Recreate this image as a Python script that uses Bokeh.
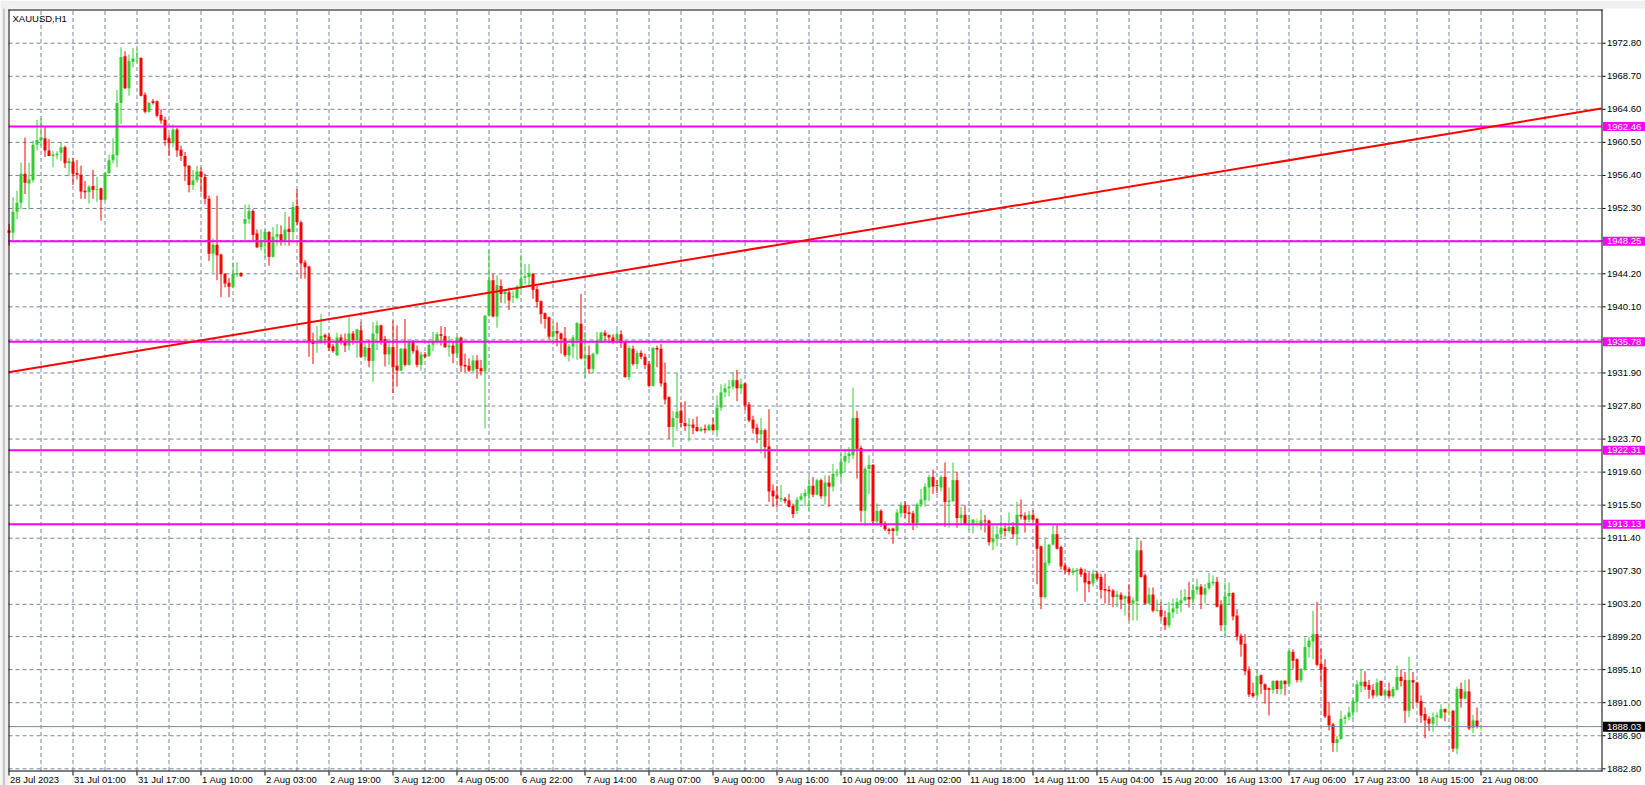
from bokeh.plotting import figure
from bokeh.models import ColumnDataSource, Range1d
from bokeh.core.properties import value
from bokeh.embed import file_html
from bokeh.resources import INLINE

# ---------------- data (XAUUSD H1) ----------------
SYMBOL = "XAUUSD,H1"

OPEN = [
    1949.6, 1949.3, 1951.9, 1953.0, 1956.6, 1955.4, 1955.8, 1960.2, 1960.8, 1961.0,
    1959.5, 1958.8, 1958.9, 1959.2, 1959.9, 1957.9, 1958.1, 1956.7, 1956.5, 1954.5,
    1954.3, 1955.1, 1954.6, 1954.8, 1953.4, 1956.7, 1958.3, 1958.9, 1965.4, 1971.2,
    1967.2, 1970.5, 1970.9, 1971.0, 1966.4, 1964.3, 1965.6, 1965.6, 1963.9, 1963.3,
    1961.0, 1960.4, 1962.1, 1959.6, 1958.8, 1957.6, 1955.2, 1955.8, 1956.9, 1956.2,
    1953.5, 1946.7, 1947.8, 1946.6, 1944.2, 1943.1, 1942.6, 1944.1, 1944.3, 1950.4,
    1951.0, 1952.0, 1949.2, 1947.5, 1948.4, 1949.4, 1946.3, 1948.8, 1949.1, 1948.2,
    1949.8, 1949.4, 1952.6, 1950.6, 1945.6, 1945.1, 1935.9, 1935.5, 1935.6, 1936.6,
    1936.4, 1935.2, 1934.1, 1936.3, 1935.8, 1935.3, 1936.8, 1936.0, 1937.2, 1933.9,
    1935.0, 1933.4, 1936.8, 1937.8, 1936.1, 1934.2, 1935.1, 1932.8, 1932.2, 1934.9,
    1932.9, 1935.7, 1934.7, 1932.9, 1934.2, 1934.0, 1935.4, 1935.8, 1936.7, 1936.5,
    1935.1, 1935.3, 1934.3, 1936.3, 1932.9, 1932.8, 1932.2, 1933.45, 1932.5, 1932.1,
    1939.0, 1943.4, 1938.9, 1942.7, 1941.7, 1941.9, 1941.3, 1941.2, 1942.6, 1943.7,
    1943.8, 1944.2, 1942.3, 1940.8, 1939.3, 1938.8, 1936.4, 1937.1, 1936.8, 1936.2,
    1934.1, 1935.2, 1936.0, 1938.0, 1933.7, 1934.1, 1932.4, 1934.3, 1935.9, 1936.9,
    1936.6, 1936.3, 1936.0, 1936.7, 1935.7, 1931.4, 1934.9, 1933.0, 1934.4, 1933.9,
    1933.0, 1930.3, 1935.0, 1934.9, 1930.7, 1928.9, 1925.2, 1926.3, 1927.2, 1925.7,
    1925.3, 1925.5, 1925.2, 1924.7, 1925.0, 1924.8, 1925.5, 1924.8, 1927.6, 1929.5,
    1930.0, 1930.2, 1931.0, 1930.0, 1930.6, 1928.0, 1926.1, 1925.1, 1924.3, 1924.8,
    1922.8, 1917.3, 1916.7, 1916.2, 1916.3, 1916.1, 1915.4, 1914.8, 1916.2, 1916.6,
    1916.9, 1917.9, 1916.8, 1918.6, 1916.6, 1918.3, 1917.8, 1919.3, 1919.4, 1920.9,
    1921.6, 1921.7, 1926.3, 1922.6, 1914.8, 1920.0, 1920.5, 1913.5, 1914.8, 1913.2,
    1912.5, 1912.6, 1912.3, 1914.5, 1915.5, 1914.6, 1914.5, 1913.3, 1915.6, 1916.1,
    1917.7, 1919.0, 1918.0, 1917.7, 1919.0, 1915.9, 1916.0, 1918.6, 1913.9, 1914.3,
    1913.5, 1913.3, 1913.5, 1912.9, 1913.6, 1913.6, 1910.9, 1911.4, 1911.9, 1912.6,
    1912.3, 1912.8, 1911.9, 1914.3, 1914.2, 1913.7, 1914.3, 1913.8, 1910.4, 1904.1,
    1908.3, 1910.6, 1911.9, 1910.3, 1908.0, 1907.6, 1907.1, 1907.3, 1907.6, 1907.1,
    1906.1, 1905.8, 1907.0, 1906.6, 1905.1, 1905.0, 1904.9, 1904.1, 1904.4, 1903.9,
    1904.2, 1903.3, 1903.6, 1909.9, 1906.8, 1903.3, 1904.4, 1902.4, 1902.5, 1901.6,
    1900.6, 1902.2, 1902.7, 1903.3, 1903.7, 1904.1, 1903.8, 1905.0, 1905.4, 1904.4,
    1905.2, 1905.8, 1906.0, 1903.1, 1900.6, 1904.2, 1904.6, 1901.8, 1899.3, 1898.3,
    1895.0, 1892.2, 1891.9, 1894.4, 1893.3, 1892.8, 1892.6, 1893.7, 1892.7, 1893.7,
    1893.3, 1897.3, 1896.4, 1893.8, 1895.1, 1897.9, 1898.6, 1899.5, 1895.8, 1895.4,
    1889.4, 1888.3, 1886.0, 1886.5, 1889.0, 1889.2, 1889.8, 1891.1, 1893.1, 1893.6,
    1893.2, 1892.6, 1891.9, 1893.7, 1891.9, 1892.5, 1891.8, 1892.6, 1894.2, 1893.8,
    1890.0, 1893.8, 1893.5, 1891.2, 1889.6, 1889.0, 1888.4, 1889.2, 1889.1, 1890.2,
    1889.8, 1890.0, 1885.3, 1892.7, 1891.5, 1892.4, 1887.9, 1888.8, 1888.03,
]

HIGH = [
    1950.4, 1953.7, 1954.5, 1958.0, 1961.1, 1958.0, 1960.7, 1963.3, 1963.5, 1962.4,
    1960.9, 1959.4, 1959.4, 1960.5, 1960.1, 1958.6, 1958.6, 1958.3, 1957.6, 1955.7,
    1955.2, 1957.1, 1956.2, 1954.9, 1956.8, 1959.0, 1961.0, 1967.0, 1972.3, 1971.8,
    1971.4, 1972.2, 1972.1, 1971.0, 1966.7, 1965.5, 1965.9, 1965.7, 1964.6, 1963.7,
    1961.5, 1962.7, 1962.3, 1960.1, 1959.3, 1957.7, 1957.1, 1957.6, 1957.4, 1956.6,
    1953.9, 1948.6, 1953.9, 1946.7, 1944.3, 1943.7, 1945.6, 1945.6, 1944.4, 1952.8,
    1952.8, 1952.2, 1949.7, 1949.7, 1949.7, 1949.5, 1950.0, 1950.4, 1950.2, 1951.9,
    1951.3, 1953.1, 1954.7, 1950.8, 1945.9, 1945.2, 1936.9, 1937.7, 1939.2, 1936.8,
    1936.9, 1935.5, 1936.9, 1936.7, 1936.8, 1938.8, 1937.1, 1937.4, 1938.2, 1935.7,
    1936.0, 1938.2, 1938.4, 1937.9, 1936.5, 1935.9, 1938.4, 1937.8, 1935.0, 1938.6,
    1935.8, 1936.0, 1935.3, 1934.5, 1934.5, 1935.7, 1937.0, 1937.0, 1937.7, 1937.6,
    1936.5, 1935.7, 1936.4, 1936.4, 1934.3, 1933.7, 1934.1, 1934.1, 1933.5, 1939.1,
    1947.1, 1944.2, 1944.0, 1943.5, 1942.2, 1942.5, 1942.1, 1942.8, 1946.6, 1945.4,
    1945.4, 1944.3, 1942.7, 1940.9, 1939.4, 1938.9, 1938.3, 1938.2, 1936.9, 1937.6,
    1935.5, 1936.6, 1938.2, 1941.7, 1937.0, 1935.3, 1934.4, 1937.0, 1937.0, 1937.2,
    1936.7, 1936.7, 1937.2, 1937.2, 1935.8, 1935.3, 1935.3, 1934.7, 1934.7, 1934.3,
    1933.4, 1935.1, 1935.3, 1935.5, 1933.2, 1929.0, 1927.2, 1931.9, 1928.3, 1928.4,
    1926.3, 1926.2, 1926.5, 1925.2, 1925.5, 1925.6, 1926.3, 1929.1, 1930.5, 1930.6,
    1931.0, 1932.0, 1932.3, 1931.2, 1930.7, 1928.3, 1926.6, 1925.6, 1926.3, 1925.0,
    1927.4, 1918.1, 1917.9, 1918.0, 1916.5, 1916.9, 1915.7, 1916.5, 1917.0, 1917.5,
    1919.0, 1919.0, 1918.8, 1918.8, 1919.2, 1919.2, 1920.6, 1920.0, 1921.9, 1922.5,
    1922.7, 1930.1, 1927.2, 1922.9, 1920.3, 1921.7, 1920.6, 1915.7, 1915.0, 1913.5,
    1912.7, 1912.7, 1915.0, 1915.9, 1916.0, 1915.5, 1914.8, 1915.8, 1917.5, 1918.2,
    1919.3, 1919.9, 1918.6, 1919.2, 1920.8, 1917.7, 1920.8, 1919.6, 1915.25, 1915.5,
    1914.3, 1913.8, 1913.9, 1915.0, 1914.3, 1913.7, 1913.0, 1913.0, 1913.8, 1913.3,
    1914.6, 1913.4, 1915.9, 1916.2, 1914.6, 1914.8, 1914.9, 1913.9, 1910.5, 1911.4,
    1910.7, 1913.1, 1913.1, 1910.5, 1908.4, 1907.8, 1907.7, 1907.7, 1907.8, 1907.6,
    1907.2, 1907.5, 1907.3, 1907.0, 1907.0, 1905.5, 1905.1, 1904.9, 1904.7, 1904.3,
    1905.7, 1904.1, 1911.5, 1911.1, 1907.0, 1905.3, 1905.3, 1903.8, 1903.5, 1902.4,
    1903.5, 1903.9, 1904.0, 1905.0, 1905.1, 1906.0, 1905.7, 1906.4, 1905.7, 1905.7,
    1907.1, 1906.8, 1906.6, 1903.7, 1905.9, 1905.9, 1904.7, 1902.6, 1899.6, 1899.5,
    1895.5, 1893.5, 1895.0, 1894.5, 1893.4, 1892.9, 1893.75, 1893.8, 1893.8, 1893.8,
    1897.5, 1897.6, 1896.5, 1895.3, 1899.1, 1899.2, 1902.4, 1903.5, 1897.7, 1896.4,
    1891.1, 1888.5, 1886.9, 1890.0, 1889.5, 1890.5, 1891.5, 1893.8, 1895.1, 1894.9,
    1893.8, 1893.3, 1894.0, 1893.75, 1892.7, 1893.5, 1893.0, 1895.6, 1895.1, 1894.8,
    1896.7, 1894.8, 1893.6, 1891.9, 1890.4, 1889.3, 1889.8, 1889.8, 1890.8, 1890.3,
    1891.1, 1890.1, 1893.0, 1893.5, 1893.8, 1893.9, 1889.5, 1890.4, 1888.2,
]

LOW = [
    1947.7, 1948.3, 1951.0, 1952.2, 1954.1, 1952.2, 1955.5, 1959.5, 1960.1, 1958.7,
    1958.8, 1957.4, 1958.4, 1958.2, 1957.3, 1956.3, 1955.2, 1955.9, 1953.5, 1953.5,
    1952.9, 1953.5, 1953.1, 1950.8, 1953.3, 1956.6, 1957.9, 1957.4, 1962.8, 1967.1,
    1966.3, 1969.8, 1970.4, 1966.2, 1964.1, 1964.2, 1965.2, 1963.6, 1962.8, 1960.1,
    1958.8, 1959.9, 1958.7, 1958.2, 1955.7, 1954.3, 1954.6, 1955.5, 1954.3, 1952.8,
    1945.8, 1944.3, 1943.4, 1941.3, 1942.5, 1941.3, 1942.4, 1943.8, 1943.85, 1948.3,
    1950.4, 1948.3, 1947.4, 1947.1, 1946.2, 1945.2, 1946.2, 1947.7, 1947.7, 1947.7,
    1947.7, 1948.1, 1950.2, 1943.6, 1943.6, 1933.9, 1933.0, 1934.4, 1935.5, 1935.4,
    1934.6, 1934.4, 1934.0, 1935.4, 1934.5, 1934.7, 1935.4, 1933.8, 1933.8, 1933.4,
    1932.6, 1930.8, 1934.7, 1935.4, 1932.7, 1932.9, 1929.4, 1930.2, 1932.1, 1932.7,
    1932.8, 1934.3, 1932.6, 1932.2, 1933.7, 1933.9, 1934.6, 1935.4, 1935.3, 1935.0,
    1933.9, 1933.1, 1933.8, 1932.0, 1932.0, 1932.0, 1932.0, 1931.2, 1931.6, 1925.0,
    1938.9, 1938.8, 1937.5, 1940.6, 1940.5, 1939.7, 1940.6, 1941.0, 1942.1, 1942.9,
    1942.8, 1941.1, 1940.0, 1938.0, 1937.4, 1936.1, 1935.4, 1935.2, 1934.3, 1933.9,
    1933.3, 1933.7, 1933.5, 1933.6, 1931.3, 1931.8, 1931.9, 1934.1, 1935.6, 1935.9,
    1935.6, 1935.5, 1935.6, 1935.0, 1931.3, 1931.0, 1932.8, 1932.4, 1933.6, 1932.4,
    1930.1, 1930.2, 1932.6, 1930.2, 1928.0, 1923.7, 1922.7, 1924.7, 1925.2, 1924.7,
    1923.4, 1924.3, 1924.6, 1924.6, 1924.4, 1924.7, 1924.7, 1924.0, 1927.2, 1928.9,
    1929.0, 1929.9, 1928.4, 1929.3, 1927.3, 1925.8, 1924.4, 1923.2, 1921.9, 1921.3,
    1915.9, 1915.3, 1915.2, 1915.9, 1915.7, 1915.2, 1913.9, 1914.4, 1916.0, 1915.4,
    1914.8, 1916.5, 1916.7, 1916.3, 1915.6, 1915.3, 1917.2, 1919.0, 1918.6, 1919.6,
    1920.7, 1921.2, 1918.8, 1913.4, 1912.9, 1916.9, 1913.2, 1912.9, 1912.8, 1912.3,
    1911.9, 1910.7, 1911.7, 1914.0, 1913.9, 1913.1, 1912.4, 1912.7, 1915.25, 1915.3,
    1916.0, 1916.9, 1917.0, 1917.2, 1912.8, 1912.7, 1915.9, 1912.7, 1913.0, 1913.1,
    1912.4, 1912.0, 1912.8, 1912.4, 1912.1, 1910.5, 1909.9, 1910.4, 1911.5, 1911.6,
    1912.1, 1911.4, 1910.5, 1913.7, 1912.1, 1913.4, 1913.4, 1905.7, 1902.6, 1903.9,
    1908.0, 1910.5, 1910.0, 1907.5, 1907.0, 1906.8, 1906.8, 1904.8, 1906.6, 1903.5,
    1904.7, 1905.4, 1906.2, 1903.9, 1903.3, 1903.3, 1902.85, 1902.85, 1902.6, 1901.8,
    1901.2, 1901.2, 1901.2, 1906.5, 1903.2, 1903.2, 1902.2, 1902.3, 1901.2, 1900.0,
    1900.3, 1901.5, 1902.0, 1902.2, 1903.6, 1902.8, 1903.3, 1904.4, 1902.6, 1903.3,
    1905.0, 1905.5, 1902.8, 1899.9, 1899.2, 1903.1, 1901.2, 1898.7, 1896.7, 1894.4,
    1891.7, 1891.6, 1891.7, 1892.1, 1890.9, 1889.4, 1892.1, 1892.1, 1892.0, 1891.9,
    1893.1, 1895.2, 1893.5, 1893.5, 1895.0, 1896.6, 1896.4, 1895.5, 1893.5, 1889.1,
    1887.55, 1884.9, 1884.9, 1886.4, 1888.3, 1888.8, 1889.0, 1889.8, 1892.3, 1892.6,
    1891.5, 1891.5, 1891.7, 1891.8, 1891.7, 1891.5, 1891.6, 1892.5, 1893.0, 1888.5,
    1889.2, 1890.2, 1890.9, 1888.5, 1886.6, 1887.5, 1887.4, 1888.0, 1889.0, 1888.7,
    1889.4, 1884.9, 1884.6, 1890.4, 1891.4, 1887.6, 1887.2, 1887.8, 1887.5,
]

CLOSE = [
    1949.3, 1951.9, 1953.0, 1956.6, 1955.5, 1955.9, 1960.2, 1960.8, 1961.1, 1959.5,
    1958.8, 1959.0, 1959.1, 1959.9, 1957.9, 1958.2, 1956.6, 1956.5, 1954.4, 1954.3,
    1955.0, 1954.6, 1954.7, 1953.4, 1956.7, 1958.3, 1959.0, 1965.4, 1971.1, 1967.2,
    1970.6, 1970.9, 1971.0, 1966.3, 1964.3, 1965.4, 1965.4, 1963.8, 1963.2, 1960.8,
    1960.4, 1962.1, 1959.5, 1958.8, 1957.5, 1955.2, 1955.8, 1956.9, 1956.2, 1953.5,
    1946.7, 1947.8, 1946.5, 1944.2, 1943.0, 1942.6, 1944.2, 1944.3, 1943.9, 1951.0,
    1952.0, 1949.0, 1947.5, 1948.4, 1949.4, 1946.3, 1948.8, 1949.1, 1948.2, 1949.7,
    1949.4, 1952.5, 1950.6, 1945.5, 1945.0, 1935.8, 1935.5, 1935.6, 1936.5, 1936.3,
    1935.0, 1934.6, 1936.3, 1935.7, 1935.3, 1936.8, 1936.0, 1937.3, 1933.9, 1935.1,
    1933.4, 1936.8, 1937.8, 1935.9, 1934.2, 1935.1, 1932.6, 1932.2, 1934.9, 1932.9,
    1935.7, 1934.6, 1932.9, 1934.2, 1933.9, 1935.4, 1935.8, 1936.7, 1936.5, 1935.1,
    1935.3, 1934.3, 1936.3, 1932.8, 1932.7, 1932.2, 1933.45, 1932.4, 1932.1, 1939.0,
    1943.4, 1938.9, 1942.8, 1941.7, 1942.0, 1940.9, 1941.4, 1942.6, 1943.6, 1943.9,
    1944.3, 1942.2, 1940.7, 1939.2, 1938.6, 1936.4, 1937.1, 1936.8, 1936.1, 1934.1,
    1935.2, 1936.3, 1938.1, 1933.7, 1934.1, 1932.4, 1934.3, 1935.9, 1936.9, 1936.5,
    1936.3, 1935.8, 1936.7, 1935.6, 1931.4, 1935.0, 1933.0, 1934.4, 1933.9, 1932.9,
    1930.3, 1935.0, 1934.8, 1930.6, 1928.6, 1925.2, 1926.3, 1927.1, 1925.7, 1925.3,
    1925.5, 1925.1, 1924.7, 1925.0, 1924.8, 1925.4, 1924.8, 1927.6, 1929.5, 1930.0,
    1930.2, 1931.0, 1930.0, 1930.5, 1927.9, 1926.0, 1925.0, 1924.3, 1924.8, 1922.7,
    1917.2, 1916.6, 1916.3, 1916.4, 1916.0, 1915.3, 1914.4, 1916.2, 1916.6, 1917.0,
    1917.9, 1916.8, 1918.6, 1916.6, 1918.3, 1917.8, 1919.4, 1919.4, 1920.9, 1921.6,
    1921.9, 1926.3, 1922.5, 1914.8, 1920.0, 1920.5, 1913.5, 1914.8, 1913.2, 1912.5,
    1912.3, 1912.3, 1914.6, 1915.5, 1914.5, 1914.4, 1913.3, 1915.6, 1916.2, 1917.8,
    1919.0, 1917.8, 1917.9, 1919.0, 1915.9, 1916.1, 1918.6, 1913.9, 1914.3, 1913.2,
    1913.6, 1913.7, 1913.5, 1913.6, 1913.5, 1910.9, 1911.4, 1911.9, 1912.7, 1912.3,
    1912.8, 1911.9, 1914.3, 1914.1, 1913.7, 1914.3, 1913.7, 1910.1, 1904.1, 1908.4,
    1910.6, 1911.9, 1910.1, 1907.9, 1907.4, 1907.2, 1907.4, 1907.5, 1906.9, 1905.9,
    1905.7, 1907.0, 1906.4, 1905.0, 1904.9, 1904.8, 1904.1, 1904.4, 1903.8, 1904.2,
    1903.3, 1903.7, 1909.9, 1906.6, 1903.3, 1904.4, 1902.4, 1902.5, 1901.7, 1900.6,
    1902.2, 1902.7, 1903.5, 1903.7, 1904.1, 1903.8, 1905.0, 1905.4, 1904.4, 1905.2,
    1905.9, 1906.0, 1902.9, 1900.6, 1904.2, 1904.6, 1901.7, 1899.2, 1898.2, 1894.9,
    1892.0, 1891.8, 1894.3, 1893.3, 1892.6, 1892.6, 1893.7, 1892.7, 1893.7, 1893.3,
    1897.4, 1896.2, 1893.8, 1895.2, 1897.9, 1898.7, 1899.5, 1895.7, 1895.1, 1889.3,
    1888.2, 1886.0, 1886.5, 1889.0, 1889.2, 1889.8, 1891.2, 1893.3, 1893.6, 1893.0,
    1892.6, 1891.9, 1893.5, 1891.9, 1892.5, 1891.8, 1892.7, 1894.2, 1893.7, 1890.0,
    1893.8, 1893.5, 1891.1, 1889.4, 1888.8, 1888.4, 1889.2, 1889.4, 1890.2, 1889.8,
    1889.8, 1885.3, 1892.7, 1891.5, 1892.4, 1887.8, 1888.8, 1888.0, 1888.03,
]

# horizontal levels (magenta) and current bid
LEVELS = [1962.46, 1948.25, 1935.78, 1922.31, 1913.13]
BID = 1888.03

# trend line anchor points: (bar index, price)
TREND_BARS = [-0.1, 398.1]
TREND_PRICES = [1932.0, 1964.7]

# time axis labels (bar index of each label, text)
X_TICK_BARS = [0, 16, 32, 48, 64, 80, 96, 112, 128, 144, 160, 176, 192, 208,
               224, 240, 256, 272, 288, 304, 320, 336, 352, 368]
X_TICK_LABELS = ["28 Jul 2023", "31 Jul 01:00", "31 Jul 17:00", "1 Aug 10:00",
                 "2 Aug 03:00", "2 Aug 19:00", "3 Aug 12:00", "4 Aug 05:00",
                 "6 Aug 22:00", "7 Aug 14:00", "8 Aug 07:00", "9 Aug 00:00",
                 "9 Aug 16:00", "10 Aug 09:00", "11 Aug 02:00", "11 Aug 18:00",
                 "14 Aug 11:00", "15 Aug 04:00", "15 Aug 20:00", "16 Aug 13:00",
                 "17 Aug 06:00", "17 Aug 23:00", "18 Aug 15:00", "21 Aug 08:00"]

# price scale (labels hidden behind the level boxes are blank)
Y_TICKS = [1882.8, 1886.9, 1891.0, 1895.1, 1899.2, 1903.2, 1907.3, 1911.4,
           1915.5, 1919.6, 1923.7, 1927.8, 1931.9, 1936.0, 1940.1, 1944.2,
           1948.3, 1952.3, 1956.4, 1960.5, 1964.6, 1968.7, 1972.8]
Y_TICK_LABELS = ["1882.80", "1886.90", "1891.00", "1895.10", "1899.20", "1903.20",
                 "1907.30", "1911.40", "1915.50", "1919.60", "1923.70", "1927.80",
                 "1931.90", "", "1940.10", "1944.20", "", "1952.30", "1956.40",
                 "1960.50", "1964.60", "1968.70", "1972.80"]

# ---------------- styling / layout (whole canvas is the plotting frame) ----------------
UP = "#32CD32"
DOWN = "#FF0000"
DOJI = "#80FF00"
MAGENTA = "#FF00FF"
GRID = "#778899"
CHROME = "#F0F0F0"
FONT = "Liberation Sans"
FS = "9.5px"

W, H = 1645, 785
PX = 0.25                    # bars per pixel (4 px per bar)
X0 = -8.5 * PX               # bar 0 sits at x = 8.5 px
PY = 0.12404                 # price per pixel
Y_TOP = 1978.10              # price at y = 0 px


def bx(px):                  # pixel column -> bar coordinate
    return X0 + px * PX


def py(px):                  # pixel row (from top) -> price coordinate
    return Y_TOP - px * PY


C_LEFT, C_RIGHT = bx(8), bx(1601)
C_TOP, C_BOTTOM = py(9), py(770.5)

n = min(len(OPEN), len(HIGH), len(LOW), len(CLOSE))
xs, tops, bots, cols, lows, highs, dx, dy = [], [], [], [], [], [], [], []
for i in range(n):
    o, h, l, c = OPEN[i], HIGH[i], LOW[i], CLOSE[i]
    if c > o:
        col = UP
    elif c < o:
        col = DOWN
    else:
        col = DOJI
        dx.append(i)
        dy.append(c)
    xs.append(i)
    tops.append(max(o, c))
    bots.append(min(o, c))
    cols.append(col)
    lows.append(l)
    highs.append(h)

src = ColumnDataSource(dict(x=xs, top=tops, bottom=bots, color=cols, low=lows, high=highs))
dsrc = ColumnDataSource(dict(x=dx, y=dy))

p = figure(width=W, height=H,
           x_range=Range1d(bx(0), bx(W)), y_range=Range1d(py(H), py(0)),
           x_axis_location=None, y_axis_location=None,
           toolbar_location=None, output_backend="svg",
           min_border=0, min_border_left=0, min_border_right=0,
           min_border_top=0, min_border_bottom=0,
           background_fill_color="white", border_fill_color="white",
           outline_line_color=None)
p.xgrid.visible = False
p.ygrid.visible = False

# window chrome strips (top and left)
p.quad(left=[bx(0), bx(0)], right=[bx(W), bx(8)], top=[py(0), py(0)],
       bottom=[py(8), py(H)], fill_color=CHROME, line_color=None)
p.segment(x0=bx(3.5), x1=bx(3.5), y0=py(8), y1=py(H), line_color="#A0A0A0", line_width=1)

# dashed grid inside the candle area
grid_bars = list(range(8, 400, 8))
p.segment(x0=C_LEFT, x1=C_RIGHT, y0=Y_TICKS, y1=Y_TICKS,
          line_color=GRID, line_width=1, line_dash="4 3")
p.segment(x0=grid_bars, x1=grid_bars, y0=C_BOTTOM, y1=C_TOP,
          line_color=GRID, line_width=1, line_dash="4 3")

# candles
p.segment(x0="x", y0="low", x1="x", y1="high", line_color="color", line_width=1, source=src)
p.vbar(x="x", width=0.75, top="top", bottom="bottom", fill_color="color",
       line_color=None, source=src)
p.rect(x="x", y="y", width=0.75, height=1, height_units="screen",
       fill_color=DOJI, line_color=None, source=dsrc)

# bid line
p.segment(x0=C_LEFT, x1=C_RIGHT, y0=BID, y1=BID, line_color=GRID, line_width=1)

# horizontal levels
p.segment(x0=C_LEFT, x1=C_RIGHT, y0=LEVELS, y1=LEVELS, line_color=MAGENTA, line_width=2)

# trend line
p.line(TREND_BARS, TREND_PRICES, line_color="#FF0000", line_width=2)

# chart borders: left, top, bottom (time scale line), right (price scale line)
p.segment(x0=[bx(8.5), bx(8), bx(8), bx(1601.5)],
          x1=[bx(8.5), bx(1602), bx(1602), bx(1601.5)],
          y0=[py(771), py(9.5), py(770.5), py(771)],
          y1=[py(9), py(9.5), py(770.5), py(9)],
          line_color="black", line_width=1)

# price scale: tick marks and labels
p.segment(x0=bx(1602), x1=bx(1605), y0=Y_TICKS, y1=Y_TICKS, line_color="black", line_width=1)
ysrc = ColumnDataSource(dict(y=Y_TICKS, t=Y_TICK_LABELS))
p.text(x=bx(1606.5), y="y", text="t", source=ysrc,
       text_font=value(FONT), text_font_size=value(FS), text_color="black",
       text_align="left", text_baseline="middle")

# level boxes on the price scale
box_l, box_r = bx(1602.5), bx(W)
lsrc = ColumnDataSource(dict(y=LEVELS, t=[f"{v:.2f}" for v in LEVELS]))
p.rect(x=(box_l + box_r) / 2, y="y", width=box_r - box_l, height=9, height_units="screen",
       fill_color=MAGENTA, line_color=None, source=lsrc)
p.text(x=bx(1606.5), y="y", text="t", source=lsrc,
       text_font=value(FONT), text_font_size=value(FS), text_color="white",
       text_align="left", text_baseline="middle")

bsrc = ColumnDataSource(dict(y=[BID], t=[f"{BID:.2f}"]))
p.rect(x=(box_l + box_r) / 2, y="y", width=box_r - box_l, height=10, height_units="screen",
       fill_color="black", line_color=None, source=bsrc)
p.text(x=bx(1606.5), y="y", text="t", source=bsrc,
       text_font=value(FONT), text_font_size=value(FS), text_color="white",
       text_align="left", text_baseline="middle")

# time scale: tick marks and labels (left-aligned at their tick)
p.segment(x0=X_TICK_BARS, x1=X_TICK_BARS, y0=py(771), y1=py(775),
          line_color="black", line_width=1)
xsrc = ColumnDataSource(dict(x=X_TICK_BARS, t=X_TICK_LABELS))
p.text(x="x", y=py(773), text="t", source=xsrc, x_offset=1,
       text_font=value(FONT), text_font_size=value(FS), text_color="black",
       text_align="left", text_baseline="top")

# symbol caption
p.text(x=[bx(12)], y=[py(12)], text=[SYMBOL],
       text_font=value(FONT), text_font_size=value(FS), text_color="black",
       text_align="left", text_baseline="top")

open("out.html", "w").write(file_html(p, INLINE))
